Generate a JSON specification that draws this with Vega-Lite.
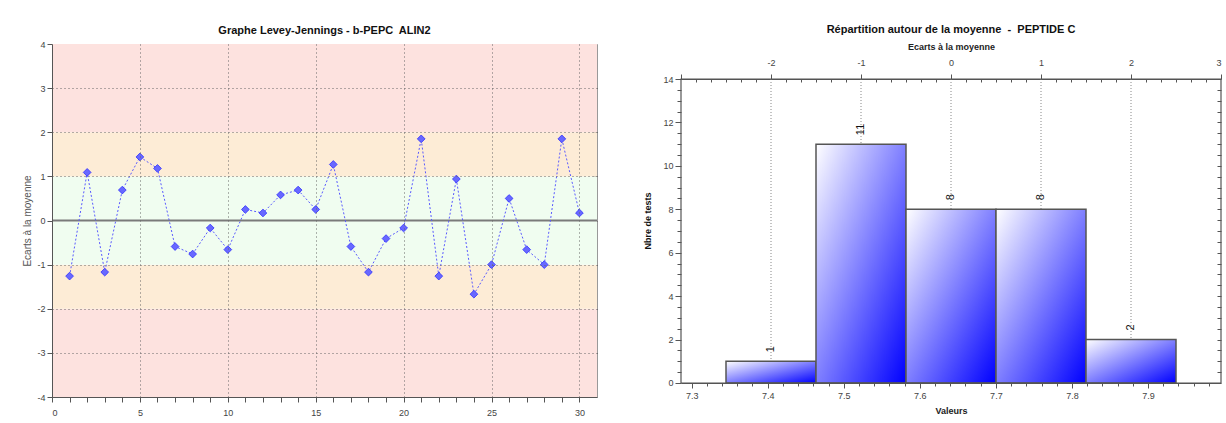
{
  "$schema": "https://vega.github.io/schema/vega-lite/v6.json",
  "padding": {"left": 22, "top": 24, "right": 5, "bottom": 5},
  "spacing": 44,
  "config": {"font": "Liberation Sans", "view": {"stroke": null}, "axis": {"labelFont": "Liberation Sans", "labelFontSize": 9, "labelColor": "#444", "domainColor": "#555", "tickColor": "#555", "labelOverlap": false}},
  "hconcat": [
    {
      "width": 545,
      "height": 353,
      "view": {"stroke": "#999"},
      "title": {"text": "Graphe Levey-Jennings - b-PEPC\u00a0 ALIN2", "fontSize": 11, "fontWeight": "bold", "color": "#111", "offset": 4},
      "resolve": {"axis": {"x": "independent", "y": "independent"}},
      "layer": [
        {
          "data": {"values": [
            {"lo": -4, "hi": -2, "zone": "r"},
            {"lo": -2, "hi": -1, "zone": "o"},
            {"lo": -1, "hi": 1, "zone": "g"},
            {"lo": 1, "hi": 2, "zone": "o"},
            {"lo": 2, "hi": 4, "zone": "r"}
          ]},
          "mark": {"type": "rect"},
          "encoding": {
            "y": {"field": "lo", "type": "quantitative", "scale": {"domain": [-4, 4], "nice": false},
              "axis": {"orient": "left", "values": [-4, -3, -2, -1, 0, 1, 2, 3, 4], "labelExpr": "'' + datum.value", "title": "Ecarts à la moyenne", "titleFontWeight": "normal", "titleFontSize": 10, "titleColor": "#555", "titlePadding": 4, "tickSize": 5, "labelPadding": 2, "zindex": 1,
                "grid": true, "gridDash": [1, 3], "gridColor": "#666",
                "gridOpacity": {"condition": {"test": "abs(datum.value) < 3.5 && datum.value != 0", "value": 1}, "value": 0}}},
            "y2": {"field": "hi"},
            "color": {"field": "zone", "type": "nominal", "scale": {"domain": ["r", "o", "g"], "range": ["#fde2df", "#fdecd6", "#f0fdf0"]}, "legend": null}
          }
        },
        {
          "data": {"values": [{"z": 0}]},
          "mark": {"type": "rule", "color": "#7a7a7a", "strokeWidth": 2},
          "encoding": {"y": {"field": "z", "type": "quantitative", "axis": null}}
        },
        {
          "data": {"name": "pts"},
          "mark": {"type": "line", "color": "#5a5aff", "strokeWidth": 1, "strokeDash": [2, 2]},
          "encoding": {
            "x": {"field": "n", "type": "quantitative", "scale": {"domain": [0, 31], "nice": false},
              "axis": {"orient": "bottom", "values": [0,1,2,3,4,5,6,7,8,9,10,11,12,13,14,15,16,17,18,19,20,21,22,23,24,25,26,27,28,29,30], "labelExpr": "datum.value % 5 == 0 ? datum.label : ''", "title": null, "tickSize": 5, "labelPadding": 6, "zindex": 1,
                "grid": true, "gridDash": [1, 3], "gridColor": "#666",
                "gridOpacity": {"condition": {"test": "datum.value % 5 == 0 && datum.value > 0", "value": 1}, "value": 0}}},
            "y": {"field": "e", "type": "quantitative", "axis": null}
          }
        },
        {
          "data": {"name": "pts"},
          "mark": {"type": "point", "shape": "diamond", "filled": true, "size": 60, "color": "#6868ff", "stroke": "#3030ff", "strokeWidth": 0.8, "opacity": 1},
          "encoding": {
            "x": {"field": "n", "type": "quantitative", "axis": null},
            "y": {"field": "e", "type": "quantitative", "axis": null}
          }
        },
        {
          "data": {"name": "pts"},
          "mark": {"type": "point", "opacity": 0},
          "encoding": {
            "x": {"field": "n", "type": "quantitative", "axis": {"orient": "top", "values": [1,2,3,4,5,6,7,8,9,10,11,12,13,14,15,16,17,18,19,20,21,22,23,24,25,26,27,28,29,30], "labels": false, "domain": false, "tickSize": -4, "title": null, "grid": false}},
            "y": {"field": "e", "type": "quantitative", "axis": {"orient": "right", "values": [-3, -2, -1, 0, 1, 2, 3], "labels": false, "domain": false, "tickSize": -4, "title": null, "grid": false}}
          }
        }
      ]
    },
    {
      "width": 540,
      "height": 353,
      "title": {"text": "Répartition autour de la moyenne\u00a0 -\u00a0 PEPTIDE C", "fontSize": 11, "fontWeight": "bold", "color": "#111", "offset": 7},
      "layer": [
        {
          "resolve": {"axis": {"x": "independent", "y": "independent"}},
          "layer": [
            {
              "data": {"name": "grid"},
              "mark": {"type": "rule", "color": "#888", "strokeDash": [1, 2], "strokeWidth": 1},
              "encoding": {
                "x": {"field": "c", "type": "quantitative", "scale": {"domain": [-3, 3], "nice": false}, "axis": null},
                "y": {"datum": 14, "type": "quantitative", "scale": {"domain": [-0.645, 15.612], "nice": false, "zero": false}, "axis": null},
                "y2": {"datum": 0}
              }
            },
            {
              "data": {"name": "bins"},
              "mark": {"type": "rect", "stroke": "#555", "strokeWidth": 1.5,
                "fill": {"gradient": "linear", "x1": 0, "y1": 0, "x2": 1, "y2": 1, "stops": [{"offset": 0, "color": "#ffffff"}, {"offset": 1, "color": "#0000ff"}]}},
              "encoding": {
                "x": {"field": "lo", "type": "quantitative",
                  "axis": {"orient": "top", "offset": -35, "title": "Ecarts à la moyenne", "titleFontSize": 9, "titleFontWeight": "bold", "titleColor": "#222", "titlePadding": 7, "labelPadding": 7,
                    "values": [-3, -2.833333, -2.666667, -2.5, -2.333333, -2.166667, -2, -1.833333, -1.666667, -1.5, -1.333333, -1.166667, -1, -0.833333, -0.666667, -0.5, -0.333333, -0.166667, 0, 0.166667, 0.333333, 0.5, 0.666667, 0.833333, 1, 1.166667, 1.333333, 1.5, 1.666667, 1.833333, 2, 2.166667, 2.333333, 2.5, 2.666667, 2.833333, 3],
                    "labelExpr": "abs(datum.value - round(datum.value)) < 0.01 && datum.value > -2.5 ? '' + round(datum.value) : ''",
                    "tickSize": {"condition": {"test": "abs(datum.value - round(datum.value)) < 0.01", "value": 5}, "value": -3},
                    "grid": false}},
                "x2": {"field": "hi"},
                "y": {"field": "n", "type": "quantitative",
                  "axis": {"orient": "left", "title": "Nbre de tests", "titleFontSize": 9, "titleFontWeight": "bold", "titleColor": "#111", "titlePadding": 10, "domain": false,
                    "values": [0, 0.5, 1, 1.5, 2, 2.5, 3, 3.5, 4, 4.5, 5, 5.5, 6, 6.5, 7, 7.5, 8, 8.5, 9, 9.5, 10, 10.5, 11, 11.5, 12, 12.5, 13, 13.5, 14],
                    "labelExpr": "datum.value % 2 == 0 ? '' + datum.value : ''",
                    "tickSize": {"condition": {"test": "datum.value % 2 == 0", "value": 6}, "value": 4},
                    "labelPadding": 2, "grid": false}},
                "y2": {"datum": 0}
              }
            },
            {
              "data": {"name": "bins"},
              "mark": {"type": "text", "angle": 270, "align": "left", "baseline": "middle", "dx": 9, "fontSize": 11, "color": "#111"},
              "encoding": {
                "x": {"field": "c", "type": "quantitative", "axis": null},
                "y": {"field": "n", "type": "quantitative",
                  "axis": {"orient": "right", "title": null, "labels": false, "domain": false, "grid": false, "tickSize": -4,
                    "values": [0.5, 1, 1.5, 2, 2.5, 3, 3.5, 4, 4.5, 5, 5.5, 6, 6.5, 7, 7.5, 8, 8.5, 9, 9.5, 10, 10.5, 11, 11.5, 12, 12.5, 13, 13.5]}},
                "text": {"field": "n", "type": "quantitative"}
              }
            },
            {
              "data": {"values": [{"lo": 0, "hi": 14}]},
              "mark": {"type": "rect", "fill": "transparent", "stroke": "#555", "strokeWidth": 1.2},
              "encoding": {
                "y": {"field": "lo", "type": "quantitative", "axis": null},
                "y2": {"field": "hi"}
              }
            }
          ]
        },
        {
          "data": {"values": [{"v": 7.3}, {"v": 7.9}]},
          "mark": {"type": "rule", "opacity": 0},
          "encoding": {
            "x": {"field": "v", "type": "quantitative", "scale": {"domain": [7.286, 7.996], "nice": false, "zero": false},
              "axis": {"orient": "bottom", "offset": -14, "title": "Valeurs", "titleFontSize": 9, "titleFontWeight": "bold", "titleColor": "#222", "titlePadding": 6, "labelPadding": 3,
                "values": [7.3, 7.32, 7.34, 7.36, 7.38, 7.4, 7.42, 7.44, 7.46, 7.48, 7.5, 7.52, 7.54, 7.56, 7.58, 7.6, 7.62, 7.64, 7.66, 7.68, 7.7, 7.72, 7.74, 7.76, 7.78, 7.8, 7.82, 7.84, 7.86, 7.88, 7.9, 7.92, 7.94, 7.96, 7.98],
                "labelExpr": "abs(datum.value * 10 - round(datum.value * 10)) < 0.01 ? format(datum.value, '.1f') : ''",
                "tickSize": {"condition": {"test": "abs(datum.value * 10 - round(datum.value * 10)) < 0.01", "value": 5}, "value": 3},
                "grid": false}}
          }
        }
      ],
      "resolve": {"scale": {"x": "independent"}}
    }
  ],
  "datasets": {
    "pts": [
      {"n": 1, "e": -1.26}, {"n": 2, "e": 1.09}, {"n": 3, "e": -1.17}, {"n": 4, "e": 0.69}, {"n": 5, "e": 1.44},
      {"n": 6, "e": 1.18}, {"n": 7, "e": -0.59}, {"n": 8, "e": -0.76}, {"n": 9, "e": -0.17}, {"n": 10, "e": -0.66},
      {"n": 11, "e": 0.25}, {"n": 12, "e": 0.17}, {"n": 13, "e": 0.58}, {"n": 14, "e": 0.69}, {"n": 15, "e": 0.25},
      {"n": 16, "e": 1.27}, {"n": 17, "e": -0.59}, {"n": 18, "e": -1.17}, {"n": 19, "e": -0.41}, {"n": 20, "e": -0.17},
      {"n": 21, "e": 1.85}, {"n": 22, "e": -1.26}, {"n": 23, "e": 0.94}, {"n": 24, "e": -1.67}, {"n": 25, "e": -1.0},
      {"n": 26, "e": 0.5}, {"n": 27, "e": -0.66}, {"n": 28, "e": -1.0}, {"n": 29, "e": 1.85}, {"n": 30, "e": 0.17}
    ],
    "bins": [
      {"lo": -2.5, "hi": -1.5, "c": -2, "n": 1},
      {"lo": -1.5, "hi": -0.5, "c": -1, "n": 11},
      {"lo": -0.5, "hi": 0.5, "c": 0, "n": 8},
      {"lo": 0.5, "hi": 1.5, "c": 1, "n": 8},
      {"lo": 1.5, "hi": 2.5, "c": 2, "n": 2}
    ],
    "grid": [{"c": -2}, {"c": -1}, {"c": 0}, {"c": 1}, {"c": 2}]
  }
}
